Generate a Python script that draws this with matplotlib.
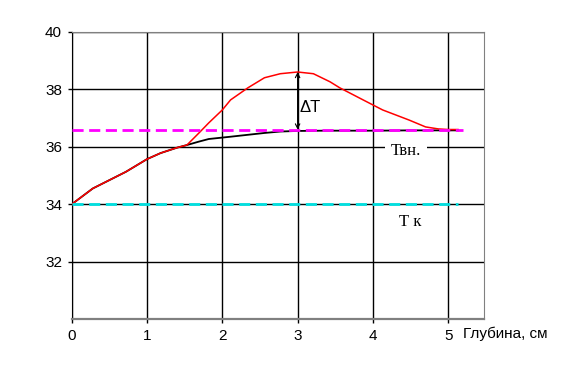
import matplotlib.pyplot as plt
import numpy as np

# depth, cm / temperature, deg C
x_red = [0, 0.28, 0.5, 0.72, 1.0, 1.18, 1.4, 1.53, 1.69, 1.82, 2.0, 2.11, 2.34, 2.56, 2.77,
         3.0, 3.21, 3.43, 3.56, 3.87, 4.13, 4.48, 4.7, 4.87, 5.0, 5.13]
t_red = [34.0, 34.55, 34.84, 35.13, 35.57, 35.78, 35.97, 36.06, 36.48, 36.83, 37.28, 37.63, 38.05,
         38.4, 38.54, 38.6, 38.54, 38.26, 38.05, 37.63, 37.28, 36.93, 36.69, 36.62, 36.6, 36.6]

x_black = [0, 0.28, 0.5, 0.72, 1.0, 1.18, 1.4, 1.53, 1.69, 1.82, 2.11, 2.56, 2.77, 3.0, 3.35, 4.0, 4.5, 5.13]
t_black = [34.0, 34.55, 34.84, 35.13, 35.57, 35.78, 35.97, 36.06, 36.18, 36.27, 36.35, 36.48, 36.53,
           36.55, 36.56, 36.56, 36.57, 36.57]

t_inner = 36.6   # Tвн.
t_skin = 34.0    # T к
x_end_inner = 5.2
x_end_skin = 5.13

xticks = [0, 1, 2, 3, 4, 5]
yticks = [32, 34, 36, 38, 40]

plt.rcParams['font.family'] = ['Liberation Sans', 'DejaVu Sans']

fig = plt.figure(figsize=(5.7, 3.66), dpi=100)
ax = fig.add_axes([0.1258, 0.1275, 0.7239, 0.7858])

ax.set_xlim(0, 5.48)
ax.set_ylim(30, 40)
ax.set_xticks(xticks)
ax.set_yticks(yticks)
ax.tick_params(direction='out', length=3, width=1, color='black', labelsize=11)
ax.tick_params(axis='x', pad=4)
ax.tick_params(axis='y', pad=4)
ax.grid(True, color='black', linewidth=1)
ax.set_axisbelow(True)

for side in ['top', 'right', 'bottom']:
    ax.spines[side].set_color('#808080')
ax.spines['bottom'].set_linewidth(1.6)
ax.spines['left'].set_color('black')

ax.plot(x_black, t_black, color='black', linewidth=1.3, zorder=3)
ax.plot(x_red, t_red, color='red', linewidth=1.1, zorder=4)
ax.plot([0, x_end_inner], [t_inner, t_inner], color='magenta', linewidth=2,
        dashes=(4, 2), zorder=5)
ax.plot([0, x_end_skin], [t_skin, t_skin], color='#00e0e0', linewidth=2,
        dashes=(4, 2), zorder=5)

# delta T arrow
ax.annotate('', xy=(3, max(t_red)), xytext=(3, t_inner),
            arrowprops=dict(arrowstyle='<->', color='black', lw=0.8,
                            shrinkA=0, shrinkB=0, mutation_scale=8), zorder=6)
ax.text(3.16, 37.35, 'ΔT', fontsize=12, ha='center', va='center')

ax.text(4.44, 35.86, 'Твн.', family=['Liberation Serif', 'DejaVu Serif'], fontsize=12,
        ha='center', va='center', zorder=7,
        bbox=dict(facecolor='white', edgecolor='none', pad=4))
ax.text(4.5, 33.39, 'Т к', family=['Liberation Serif', 'DejaVu Serif'], fontsize=12,
        ha='center', va='center', zorder=7)

fig.text(463 / 570, 1 - 334 / 366, 'Глубина, см', fontsize=11, ha='left', va='center')

fig.savefig('out.png', dpi=100)
